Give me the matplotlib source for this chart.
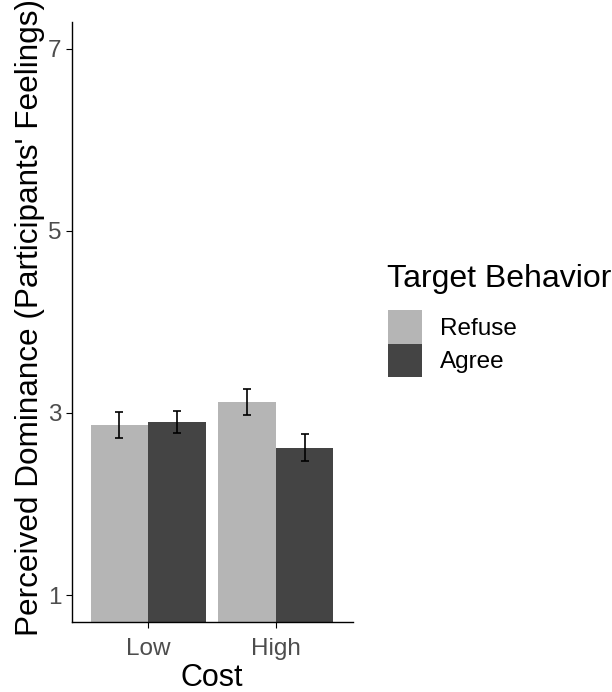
import numpy as np
import matplotlib.pyplot as plt
from matplotlib.patches import Patch

plt.rcParams['font.family'] = ['Liberation Sans', 'DejaVu Sans']

# -----------------------------
# Data
# -----------------------------
cost_levels = ["Low", "High"]
behaviors = ["Refuse", "Agree"]
means_refuse = [2.87, 3.12]
means_agree = [2.90, 2.62]
se_refuse = [0.14, 0.145]
se_agree = [0.12, 0.15]
y_ticks = [1, 3, 5, 7]

colors = {"Refuse": "#b5b5b5", "Agree": "#444444"}

# -----------------------------
# Figure
# -----------------------------
fig = plt.figure(figsize=(6.12, 6.92), dpi=100)
ax = fig.add_axes([0.117, 0.1007, 0.459, 0.868])

x = np.arange(len(cost_levels))
width = 0.45

for offset, name, means, errs in [
    (-width / 2, "Refuse", means_refuse, se_refuse),
    (width / 2, "Agree", means_agree, se_agree),
]:
    ax.bar(
        x + offset,
        means,
        width=width,
        color=colors[name],
        label=name
    )
    ax.errorbar(
        x + offset,
        means,
        yerr=errs,
        fmt="none",
        ecolor="black",
        elinewidth=1.2,
        capsize=3,
        capthick=1.2
    )

ax.set_xlim(-0.6, 1.6)
ax.set_ylim(0.7, 7.3)
ax.set_xticks(x)
ax.set_xticklabels(cost_levels)
ax.set_yticks(y_ticks)

ax.spines["top"].set_visible(False)
ax.spines["right"].set_visible(False)
ax.spines["left"].set_linewidth(1.0)
ax.spines["bottom"].set_linewidth(1.0)

ax.tick_params(
    axis="both",
    labelsize=17.5,
    labelcolor="#4d4d4d",
    length=4.5,
    width=0.8
)
ax.tick_params(axis="x", pad=6.5)
ax.tick_params(axis="y", pad=3)

ax.set_xlabel("Cost", fontsize=22, labelpad=2.5)
ax.set_ylabel(
    "Perceived Dominance (Participants' Feelings)",
    fontsize=22.7,
    labelpad=2
)
ax.yaxis.label.set_y(0.508)

# -----------------------------
# Legend
# -----------------------------
fig.text(
    387 / 612,
    1 - 287 / 692,
    "Target Behavior",
    fontsize=23,
    ha="left",
    va="baseline"
)

handles = [Patch(facecolor=colors[b], label=b) for b in behaviors]
leg = fig.legend(
    handles=handles,
    loc="upper left",
    bbox_to_anchor=(0.634, 0.552),
    frameon=False,
    fontsize=17.5,
    handlelength=1.4,
    handleheight=1.75,
    handletextpad=0.75,
    labelspacing=0.0,
    borderpad=0,
    borderaxespad=0
)

plt.savefig("out.png", dpi=100)
plt.close(fig)
